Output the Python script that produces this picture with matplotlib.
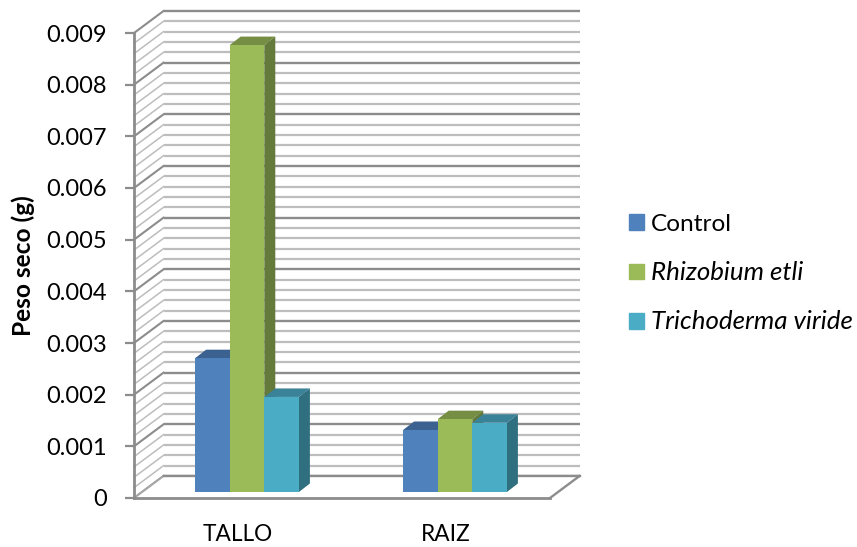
import matplotlib
matplotlib.use("Agg")
from matplotlib import pyplot as plt
from matplotlib.patches import Polygon, Patch

# data
categories = ['TALLO', 'RAIZ']
series = ['Control', 'Rhizobium etli', 'Trichoderma viride']
control = [0.00259, 0.00120]
rhizobium = [0.00865, 0.00141]
trichoderma = [0.00184, 0.00134]
yticks = [0, 0.001, 0.002, 0.003, 0.004, 0.005, 0.006, 0.007, 0.008, 0.009]
yticklabels = ['0', '0.001', '0.002', '0.003', '0.004', '0.005', '0.006', '0.007', '0.008', '0.009']
minor_step = 0.0002

colors = [('#4f81bd', '#3b6190', '#2f5c8f'),
          ('#9bbb59', '#758e43', '#647a3a'),
          ('#4bacc6', '#398298', '#2f6f80')]

plt.rcParams['font.family'] = ['Lato', 'DejaVu Sans']

W, H = 857, 547
fig = plt.figure(figsize=(W / 100, H / 100), dpi=100)
# front plane of the fake 3d box, pixels from the reference
left, right, top, bottom = 134, 550, 33, 498
ax = fig.add_axes([left / W, 1 - bottom / H, (right - left) / W, (bottom - top) / H])
ax.set_xlim(-0.5, 1.5)
ax.set_ylim(0, 0.009)
for s in ax.spines.values():
    s.set_visible(False)
ax.patch.set_visible(False)

px = 2.0 / (right - left)
py = 0.009 / (bottom - top)
depth_x, depth_y = 29.5 * px, 22 * py      # wall depth
bar_x, bar_y = 9 * px, 6 * py              # bars stand inside the floor
bar_dx, bar_dy = 11 * px, 8.5 * py         # bar depth
bar_w = 34.6 * px

# grid on walls
x0, x1 = -0.5, 1.5
n = int(round(0.009 / minor_step))
for i in range(n + 1):
    v = i * minor_step
    major = i % 5 == 0
    c = '#8c8c8c' if major else '#bdbdbd'
    lw = 1.7 if major else 1.6
    ax.plot([x0 + depth_x, x1 + depth_x], [v + depth_y, v + depth_y], color=c, lw=lw, clip_on=False,
            solid_capstyle='butt', zorder=1)
    ax.plot([x0, x0 + depth_x], [v, v + depth_y], color=c, lw=1.5 if major else 1.1, clip_on=False, zorder=1)

# floor
ax.add_patch(Polygon([(x0, 0), (x0 + depth_x, depth_y), (x1 + depth_x, depth_y), (x1, 0)],
                     closed=True, facecolor='white', edgecolor='none', clip_on=False, zorder=2))
ax.plot([x0, x0 + depth_x], [0, depth_y], color='#a6a6a6', lw=1.5, clip_on=False, zorder=3)
ax.plot([x1, x1 + depth_x], [0, depth_y], color='#8c8c8c', lw=1.7, clip_on=False, zorder=3)
ax.plot([x0 + depth_x, x1 + depth_x], [depth_y, depth_y], color='#8c8c8c', lw=1.7, clip_on=False, zorder=3)
ax.plot([x0, x1], [0, 0], color='#8c8c8c', lw=2, clip_on=False, zorder=3)
ax.plot([x0, x0], [0, 0.009], color='#8c8c8c', lw=2, clip_on=False, zorder=3)

# bars, back to front, left to right
z = 4
for c, cat in enumerate(categories):
    for k, vals in enumerate([control, rhizobium, trichoderma]):
        v = vals[c]
        l = c + bar_x + (k - 1.5) * bar_w
        r = l + bar_w
        b = bar_y
        t = bar_y + v
        front, topc, side = colors[k]
        ax.add_patch(Polygon([(l, t), (l + bar_dx, t + bar_dy), (r + bar_dx, t + bar_dy), (r, t)],
                             facecolor=topc, edgecolor='none', clip_on=False, zorder=z))
        ax.add_patch(Polygon([(r, b), (r + bar_dx, b + bar_dy), (r + bar_dx, t + bar_dy), (r, t)],
                             facecolor=side, edgecolor='none', clip_on=False, zorder=z))
        ax.add_patch(Polygon([(l, b), (r, b), (r, t), (l, t)],
                             facecolor=front, edgecolor='none', clip_on=False, zorder=z + 0.5))
        z += 1

ax.set_xticks([0, 1])
ax.set_xticklabels(categories, fontsize=16.3)
ax.tick_params(axis='x', length=0, pad=19)
ax.set_yticks(yticks)
ax.set_yticklabels(yticklabels, fontsize=17)
ax.tick_params(axis='y', length=6.5, width=1.6, color='#8c8c8c', pad=13, labelcolor='black')
fig.text(23 / W, 1 - 265.5 / H, 'Peso seco (g)', rotation=90, fontsize=17.6, fontweight='bold',
         ha='center', va='center')

handles = [Patch(color=colors[i][0]) for i in range(3)]
leg = fig.legend(handles, series, loc='center left', bbox_to_anchor=(629 / W, 1 - 273.5 / H),
                 frameon=False, fontsize=17.6, handlelength=0.61, handleheight=0.61,
                 handletextpad=0.28, labelspacing=1.08, borderpad=0, borderaxespad=0)
leg.get_texts()[1].set_style('italic')
leg.get_texts()[2].set_style('italic')
leg.get_texts()[1].set_fontsize(18.6)
leg.get_texts()[2].set_fontsize(18.6)

fig.savefig('out.png', dpi=100)
